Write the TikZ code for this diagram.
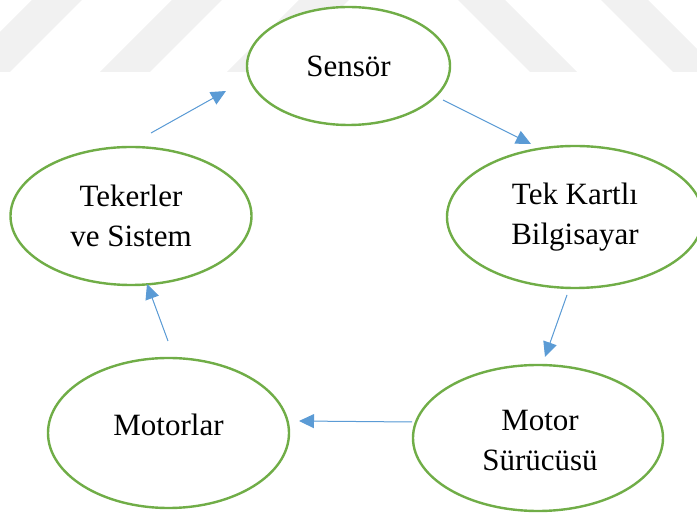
\documentclass[tikz,border=0pt]{standalone}
\usepackage{fontspec}
\setmainfont{Liberation Serif}
\usetikzlibrary{shapes.geometric,arrows.meta}
\definecolor{ringgreen}{RGB}{112,173,71}
\definecolor{flowblue}{RGB}{91,155,213}
\definecolor{bandgray}{RGB}{241,241,241}
\tikzset{
  stage/.style={ellipse, draw=ringgreen, line width=2.4pt, fill=white,
    inner sep=0pt, align=center, font=\fontsize{31}{40}\selectfont},
  caption/.style={inner sep=0pt, align=center, font=\fontsize{31}{40}\selectfont},
  flow/.style={draw=flowblue, line width=1pt,
    -{Triangle[length=15pt,width=14pt]}, fill=flowblue},
  band/.style={fill=bandgray, draw=none}
}
\begin{document}
\begin{tikzpicture}[x=1pt,y=-1pt]
\useasboundingbox (0,0) rectangle (697,518);
% light diagonal stripes along the top edge
\fill[band] (-40,72) -- (10,72) -- (82,0) -- (32,0) -- cycle;
\fill[band] (100,72) -- (150,72) -- (222,0) -- (172,0) -- cycle;
\fill[band] (227,72) -- (277,72) -- (349,0) -- (299,0) -- cycle;
\fill[band] (530,72) -- (577,72) -- (505,0) -- (458,0) -- cycle;
\fill[band] (673,72) -- (720,72) -- (648,0) -- (601,0) -- cycle;

% stages of the loop
\node[stage, minimum width=203pt, minimum height=118pt] (sensor) at (348.5,66) {Sensör};
\node[stage, minimum width=256pt, minimum height=142pt] (sbc) at (575,217) {Tek Kartlı\\Bilgisayar};
\node[stage, minimum width=250pt, minimum height=146pt] (driver) at (538,438) {};
\node[caption] (driver-text) at (540,441) {Motor\\Sürücüsü};
\node[stage, minimum width=241pt, minimum height=150pt] (motors) at (168.5,433) {};
\node[caption] (motors-text) at (168.5,425) {Motorlar};
\node[stage, minimum width=241pt, minimum height=138pt] (wheels) at (131,216) {Tekerler\\ve Sistem};

% connector end points
\coordinate (a1) at (151,133); \coordinate (b1) at (226,91);
\coordinate (a2) at (443,100); \coordinate (b2) at (531,144);
\coordinate (a3) at (567,295); \coordinate (b3) at (545,357);
\coordinate (a4) at (412,422); \coordinate (b4) at (299,421);
\coordinate (a5) at (168,341); \coordinate (b5) at (147,284);

\draw[flow] (a1) -- (b1);
\draw[flow] (a2) -- (b2);
\draw[flow] (a3) -- (b3);
\draw[flow] (a4) -- (b4);
\draw[flow] (a5) -- (b5);
\end{tikzpicture}
\end{document}
